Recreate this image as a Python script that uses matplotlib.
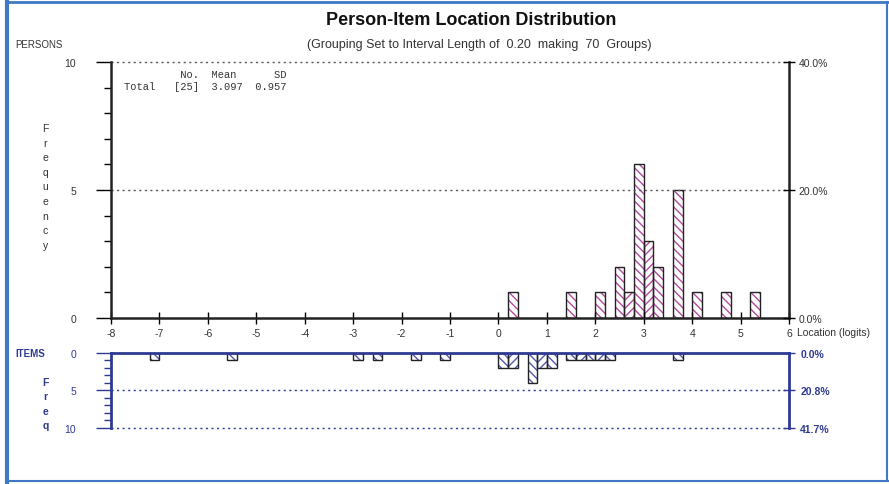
import numpy as np
import matplotlib.pyplot as plt
from matplotlib.lines import Line2D
from matplotlib.ticker import MultipleLocator

plt.rcParams['font.family'] = ['Liberation Sans', 'DejaVu Sans']
plt.rcParams['hatch.linewidth'] = 1.0
plt.rcParams['axes.unicode_minus'] = False

# --------------------------------------------
# Data (interval length 0.20)
# --------------------------------------------
bin_width = 0.2
person_bins = [0.2, 1.4, 2.0, 2.4, 2.6, 2.8, 3.0, 3.2, 3.6, 4.0, 4.6, 5.2]
person_counts = [1, 1, 1, 2, 1, 6, 3, 2, 5, 1, 1, 1]

item_bins = [-7.2, -5.6, -3.0, -2.6, -1.8, -1.2, 0.0, 0.2, 0.6, 0.8, 1.0,
             1.4, 1.6, 1.8, 2.0, 2.2, 3.6]
item_counts = [1, 1, 1, 1, 1, 1, 2, 2, 4, 2, 2, 1, 1, 1, 1, 1, 1]

n_persons = 25
n_items = 24
person_mean = 3.097
person_sd = 0.957
n_groups = 70

x_ticks = list(range(-8, 7))
freq_ticks = [0, 5, 10]

navy = '#2E3A92'
pink = '#B24A9E'
blue_hatch = '#5558AE'
grey = '#333333'

BACK = '\\' * 4
FWD = '/' * 4


def hatches_for(bins):
    # neighbouring bars switch hatch direction
    out = []
    for i, b in enumerate(bins):
        if i > 0 and abs(bins[i - 1] + bin_width - b) < 1e-6 and out[-1] == BACK:
            out.append(FWD)
        else:
            out.append(BACK)
    return out


def draw_bars(ax, bins, counts, hcolor):
    for b, c, h in zip(bins, counts, hatches_for(bins)):
        ax.bar(b, c, width=bin_width, align='edge', fill=False,
               hatch=h, edgecolor=hcolor, linewidth=0)
        ax.bar(b, c, width=bin_width, align='edge', fill=False,
               edgecolor='#222222', linewidth=1.0)


fig = plt.figure(figsize=(8.89, 4.85), dpi=100)

# ---------------- persons ----------------
ax = fig.add_axes([0.1249, 0.3423, 0.7627, 0.5278])
draw_bars(ax, person_bins, person_counts, pink)
ax.set_xlim(-8, 6)
ax.set_ylim(0, 10)
for y in [5, 10]:
    ax.axhline(y, color='#555555', lw=1, ls=(0, (1.5, 2.5)), clip_on=False)
ax.spines['top'].set_visible(False)
for s in ['left', 'right', 'bottom']:
    ax.spines[s].set_linewidth(1.8)
    ax.spines[s].set_color('#222222')
ax.set_xticks(x_ticks)
ax.tick_params(axis='x', direction='inout', length=8, width=1,
               labelsize=7.5, labelcolor=grey, pad=3)
ax.set_yticks(freq_ticks)
ax.yaxis.set_minor_locator(MultipleLocator(1))
ax.tick_params(axis='y', which='major', direction='out', length=11, width=1,
               labelsize=7.5, labelcolor=grey, pad=14)
ax.tick_params(axis='y', which='minor', direction='out', length=5, width=1)

ax2 = ax.twinx()
ax2.set_ylim(0, 10)
ax2.set_yticks(freq_ticks)
ax2.set_yticklabels([f'{v / n_persons * 100:.1f}%' for v in freq_ticks])
ax2.tick_params(axis='y', direction='inout', length=8, width=1,
                labelsize=7.5, labelcolor=grey, pad=3)
for s in ax2.spines.values():
    s.set_visible(False)

ax.text(1.012, -0.055, 'Location (logits)', transform=ax.transAxes,
        fontsize=7.5, color=grey, va='center', ha='left')

# ---------------- items ----------------
bx = fig.add_axes([0.1249, 0.1155, 0.7627, 0.1546])
draw_bars(bx, item_bins, item_counts, blue_hatch)
bx.set_xlim(-8, 6)
bx.set_ylim(10, 0)
for y in [5, 10]:
    bx.axhline(y, color=navy, lw=1, ls=(0, (1.5, 2.5)), clip_on=False)
bx.spines['bottom'].set_visible(False)
for s in ['left', 'right', 'top']:
    bx.spines[s].set_linewidth(2)
    bx.spines[s].set_color(navy)
bx.set_xticks([])
bx.set_yticks(freq_ticks)
bx.yaxis.set_minor_locator(MultipleLocator(1))
bx.tick_params(axis='y', which='major', direction='out', length=11, width=1,
               color=navy, labelsize=7.5, labelcolor=navy, pad=14)
bx.tick_params(axis='y', which='minor', direction='out', length=5, width=1,
               color=navy)

bx2 = bx.twinx()
bx2.set_ylim(10, 0)
bx2.set_yticks(freq_ticks)
bx2.set_yticklabels([f'{v / n_items * 100:.1f}%' for v in freq_ticks],
                    fontweight='bold')
bx2.tick_params(axis='y', direction='inout', length=8, width=1, color=navy,
                labelsize=7.5, labelcolor=navy, pad=4)
for s in bx2.spines.values():
    s.set_visible(False)

# ---------------- texts ----------------
fig.text(0.530, 1 - 25 / 485, 'Person-Item Location Distribution', ha='center',
         fontsize=13, fontweight='bold', color='#111111')
fig.text(0.539, 1 - 48 / 485,
         f'(Grouping Set to Interval Length of  {bin_width:.2f}  making  {n_groups}  Groups)',
         ha='center', fontsize=9, color=grey)
fig.text(0.017, 1 - 45 / 485, 'PERSONS', fontsize=7, color=grey, va='center',
         fontstretch='condensed')
fig.text(0.017, 0.270, 'ITEMS', fontsize=7, color=navy, va='center',
         fontweight='bold')

for i, ch in enumerate('Frequency'):
    fig.text(0.051, 1 - (129 + i * 14.6) / 485, ch, fontsize=7.5,
             color=grey, ha='center', va='center')
for i, ch in enumerate('Freq'):
    fig.text(0.051, 1 - (383 + i * 14.3) / 485, ch, fontsize=7.5,
             color=navy, ha='center', va='center', fontweight='bold')

mono = dict(family='Liberation Mono', fontsize=7.5, color=grey, ha='left',
            va='center')
fig.text(0.139, 1 - 75 / 485, '         No.  Mean      SD', **mono)
fig.text(0.139, 1 - 87 / 485,
         f'Total   [{n_persons}]  {person_mean:.3f}  {person_sd:.3f}', **mono)

# ---------------- frame ----------------
frame = '#3F78C3'
fig.add_artist(Line2D([0.008, 0.008], [0.005, 0.995], color=frame, lw=3,
                      transform=fig.transFigure))
fig.add_artist(Line2D([0.008, 0.999], [0.994, 0.994], color=frame, lw=2,
                      transform=fig.transFigure))
fig.add_artist(Line2D([0.008, 0.999], [0.006, 0.006], color=frame, lw=1.5,
                      transform=fig.transFigure))
fig.add_artist(Line2D([0.998, 0.998], [0.006, 0.994], color=frame, lw=1.5,
                      transform=fig.transFigure))

fig.savefig('out.png', dpi=100)
